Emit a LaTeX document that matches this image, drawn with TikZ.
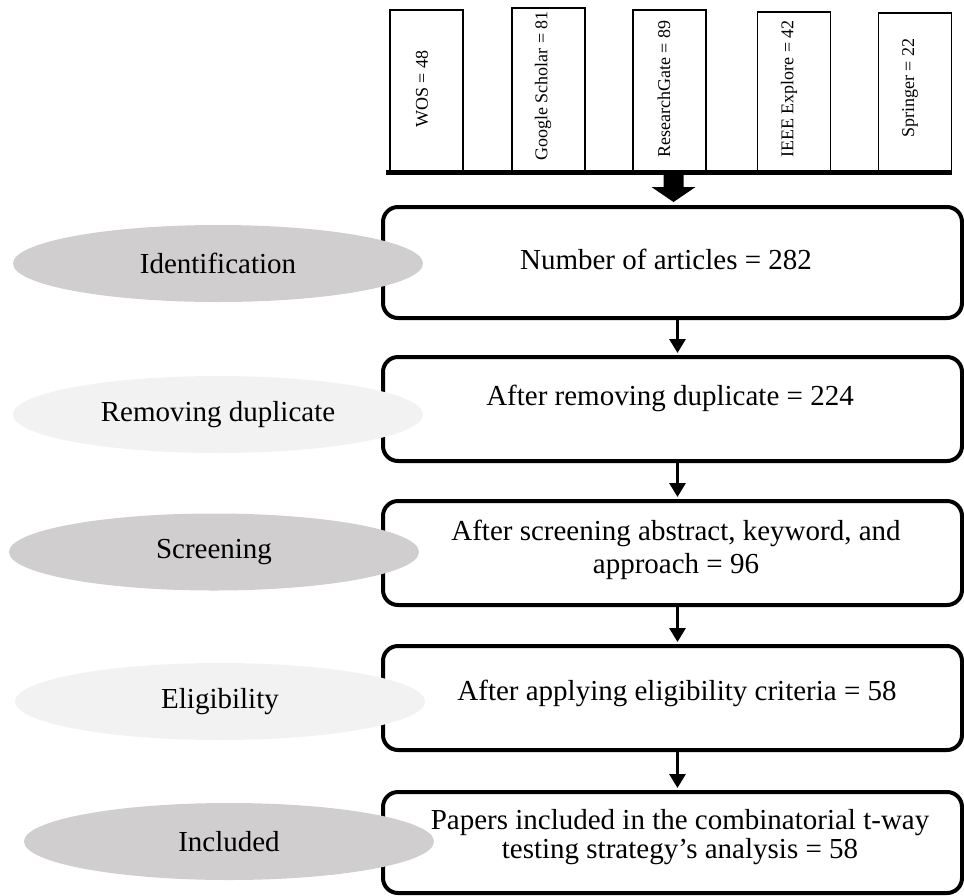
\documentclass[tikz,border=0pt]{standalone}
\usepackage{fontspec}
\setmainfont{Liberation Serif}
\usetikzlibrary{shapes.geometric,arrows.meta}
\definecolor{darkell}{RGB}{208,206,207}
\definecolor{lightell}{RGB}{242,242,242}
\begin{document}
\begin{tikzpicture}[x=1pt,y=-1pt,
  srcbox/.style={draw=black,line width=1.5pt,minimum width=73pt,inner sep=0pt,fill=white},
  srctext/.style={rotate=90,font=\fontsize{18}{21}\selectfont,inner sep=0pt},
  stage/.style={draw=black,line width=4pt,rounded corners=15pt,minimum width=579pt,inner sep=0pt},
  stagetext/.style={font=\fontsize{29}{33}\selectfont,align=center,inner sep=0pt},
  phase/.style={ellipse,inner sep=0pt,minimum width=410pt,minimum height=77pt,font=\fontsize{29}{34}\selectfont},
  darkph/.style={phase,fill=darkell},
  lightph/.style={phase,fill=lightell},
  flow/.style={line width=3pt,-{Triangle[width=16pt,length=14pt]},shorten >=2pt}
]
\useasboundingbox (0,0) rectangle (964,895);

% source boxes
\node[srcbox,minimum height=162pt] (s1) at (426.5,91) {};
\node[srcbox,minimum height=164pt] (s2) at (548.5,90) {};
\node[srcbox,minimum height=162pt] (s3) at (669.5,91) {};
\node[srcbox,minimum height=160pt] (s4) at (794,92) {};
\node[srcbox,minimum height=159pt] (s5) at (915,92.5) {};
\node[srctext] (l1) at (422,89) {WOS = 48};
\node[srctext] (l2) at (543,86) {Google Scholar = 81};
\node[srctext] (l3) at (664,89) {ResearchGate = 89};
\node[srctext] (l4) at (789,89) {IEEE Explore = 42};
\node[srctext] (l5) at (910,88) {Springer = 22};

% collecting bar
\coordinate (barL) at ([xshift=-3pt]s1.south west);
\coordinate (barR) at (s5.south east);
\draw[line width=5pt] (barL) -- (barR);

% big arrow
\coordinate (bar) at (673.5,174);
\fill (bar) ++(-10,0) -- ++(0,13) -- ++(-12,0) -- ++(22,15) -- ++(22,-15) -- ++(-12,0) -- ++(0,-13) -- cycle;

% stage boxes
\node[stage,minimum height=111pt] (b1) at (672.5,262.5) {};
\node[stage,minimum height=104pt] (b2) at (672.5,409) {};
\node[stage,minimum height=104pt] (b3) at (672.5,553) {};
\node[stage,minimum height=104pt] (b4) at (672.5,698) {};
\node[stage,minimum height=101pt] (b5) at (672.5,842.5) {};

% flow arrows
\draw[flow] ([xshift=5pt]b1.south) -- ([xshift=5pt]b2.north);
\draw[flow] ([xshift=5pt]b2.south) -- ([xshift=5pt]b3.north);
\draw[flow] ([xshift=5pt]b3.south) -- ([xshift=5pt]b4.north);
\draw[flow] ([xshift=5pt]b4.south) -- ([xshift=5pt]b5.north);

% phase ellipses
\node[darkph] (e1) at (218,263.5) {Identification};
\node[lightph] (e2) at (218,414.5) {Removing duplicate};
\node[darkph] (e3) at (214,552) {Screening};
\node[lightph] (e4) at (220,701.5) {Eligibility};
\node[darkph] (e5) at (229,841.5) {Included};

% stage texts
\node[stagetext] (t1) at (666,259) {Number of articles = 282};
\node[stagetext] (t2) at (670,398) {After removing duplicate = 224};
\node[stagetext] (t3) at (676,550) {After screening abstract, keyword, and\\approach = 96};
\node[stagetext] (t4) at (677,693) {After applying eligibility criteria = 58};
\node[stagetext,font=\fontsize{29}{29}\selectfont] (t5) at (680,837) {Papers included in the combinatorial t-way\\testing strategy’s analysis = 58};
\end{tikzpicture}
\end{document}
